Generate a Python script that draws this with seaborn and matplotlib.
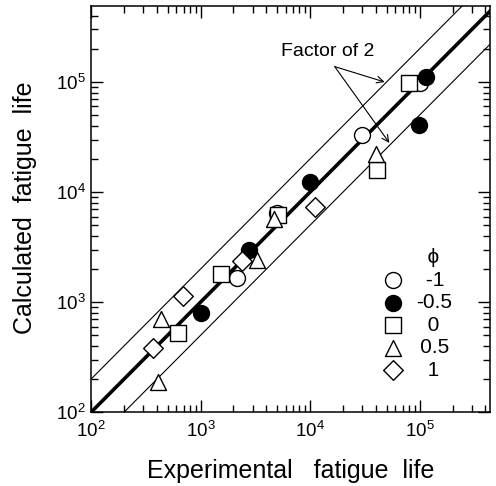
import matplotlib
matplotlib.use("Agg")
import matplotlib.pyplot as plt
import seaborn as sns
import pandas as pd

# experimental vs calculated fatigue life, grouped by phi
phi_labels = ["-1", "-0.5", "0", "0.5", "1"]

exp_m1 = [1.0e5, 3.0e4, 5.0e3, 2.17e3]
calc_m1 = [9.8e4, 3.3e4, 6.4e3, 1.66e3]

exp_m05 = [1.15e5, 9.8e4, 1.0e4, 2.8e3, 1.02e3]
calc_m05 = [1.12e5, 4.1e4, 1.24e4, 3.0e3, 806]

exp_0 = [8.0e4, 4.1e4, 5.1e3, 1.53e3, 625]
calc_0 = [9.8e4, 1.58e4, 6.2e3, 1.8e3, 530]

exp_05 = [4.0e4, 4.7e3, 3.3e3, 432, 411]
calc_05 = [2.2e4, 5.65e3, 2.4e3, 700, 189]

exp_1 = [1.1e4, 2.37e3, 694, 365]
calc_1 = [7.3e3, 2.36e3, 1.13e3, 380]

groups = [(exp_m1, calc_m1), (exp_m05, calc_m05), (exp_0, calc_0),
          (exp_05, calc_05), (exp_1, calc_1)]
rows = []
for lab, (ex, ca) in zip(phi_labels, groups):
    for e, c in zip(ex, ca):
        rows.append({"phi": lab, "exp": e, "calc": c})
df = pd.DataFrame(rows)

sns.set_style("ticks")
plt.rcParams["font.family"] = ["Liberation Sans", "DejaVu Sans"]
plt.rcParams["mathtext.fontset"] = "custom"
plt.rcParams["mathtext.rm"] = "Liberation Sans"
plt.rcParams["mathtext.it"] = "Liberation Sans:italic"
for key in ["text.color", "axes.labelcolor", "xtick.color", "ytick.color"]:
    plt.rcParams[key] = "black"

marker_style = {
    "-1": dict(marker="o", facecolor="white", s=132),
    "-0.5": dict(marker="o", facecolor="black", s=132),
    "0": dict(marker="s", facecolor="white", s=125),
    "0.5": dict(marker="^", facecolor="white", s=132),
    "1": dict(marker="D", facecolor="white", s=100),
}
# leading pad so the legend labels look centred
label_pad = {"-1": " \u2009", "-0.5": "", "0": "\u2007", "0.5": "\u2009", "1": "\u2007"}

fig = plt.figure(figsize=(4.96, 4.86), dpi=100)
ax = fig.add_axes([91 / 496, 73.7 / 486, 399 / 496, 406.3 / 486])

line_x = [1e2, 1e6]
ax.plot(line_x, line_x, color="black", lw=2.6, zorder=2)
ax.plot(line_x, [v * 2 for v in line_x], color="black", lw=0.8, zorder=2)
ax.plot(line_x, [v / 2 for v in line_x], color="black", lw=0.8, zorder=2)

for lab in phi_labels:
    st = marker_style[lab]
    sns.scatterplot(data=df[df["phi"] == lab], x="exp", y="calc", ax=ax,
                    marker=st["marker"], s=st["s"], facecolor=st["facecolor"],
                    edgecolor="black", linewidth=1.0,
                    label=label_pad[lab] + lab, zorder=3)

ax.set_xscale("log")
ax.set_yscale("log")
ax.set_xlim(1e2, 4.4e5)
ax.set_ylim(1e2, 4.9e5)

ax.tick_params(which="both", direction="in", top=True, right=True,
               labelsize=13.5, width=1, color="black", labelcolor="black")
ax.tick_params(which="major", length=8.5)
ax.tick_params(axis="x", which="major", pad=6)
ax.tick_params(axis="y", which="major", pad=4)
ax.tick_params(which="minor", length=5)
for sp in ax.spines.values():
    sp.set_linewidth(1.1)
    sp.set_color("black")

ax.set_xlabel("Experimental   fatigue  life", fontsize=18)
ax.set_ylabel("Calculated  fatigue  life", fontsize=18)
ax.xaxis.set_label_coords(0.501, -0.115)
ax.yaxis.set_label_coords(-0.136, 0.504)

# factor-of-2 annotation
ax.text(1.45e4, 1.9e5, "Factor of 2", fontsize=14, ha="center", va="center")
for tip in [(4.8e4, 1.0e5), (5.3e4, 2.8e4)]:
    ax.annotate("", xy=tip, xytext=(1.68e4, 1.38e5),
                arrowprops=dict(arrowstyle="->", color="black", lw=0.8,
                                shrinkA=0, shrinkB=0, mutation_scale=12))

leg = ax.legend(title="      ϕ", frameon=False, fontsize=15, title_fontsize=15,
                loc="upper left", bbox_to_anchor=(0.7256, 0.404),
                handlelength=1.2, handletextpad=0.5, labelspacing=0.17,
                borderpad=0.0, borderaxespad=0.0)

fig.savefig("out.png", dpi=100)
